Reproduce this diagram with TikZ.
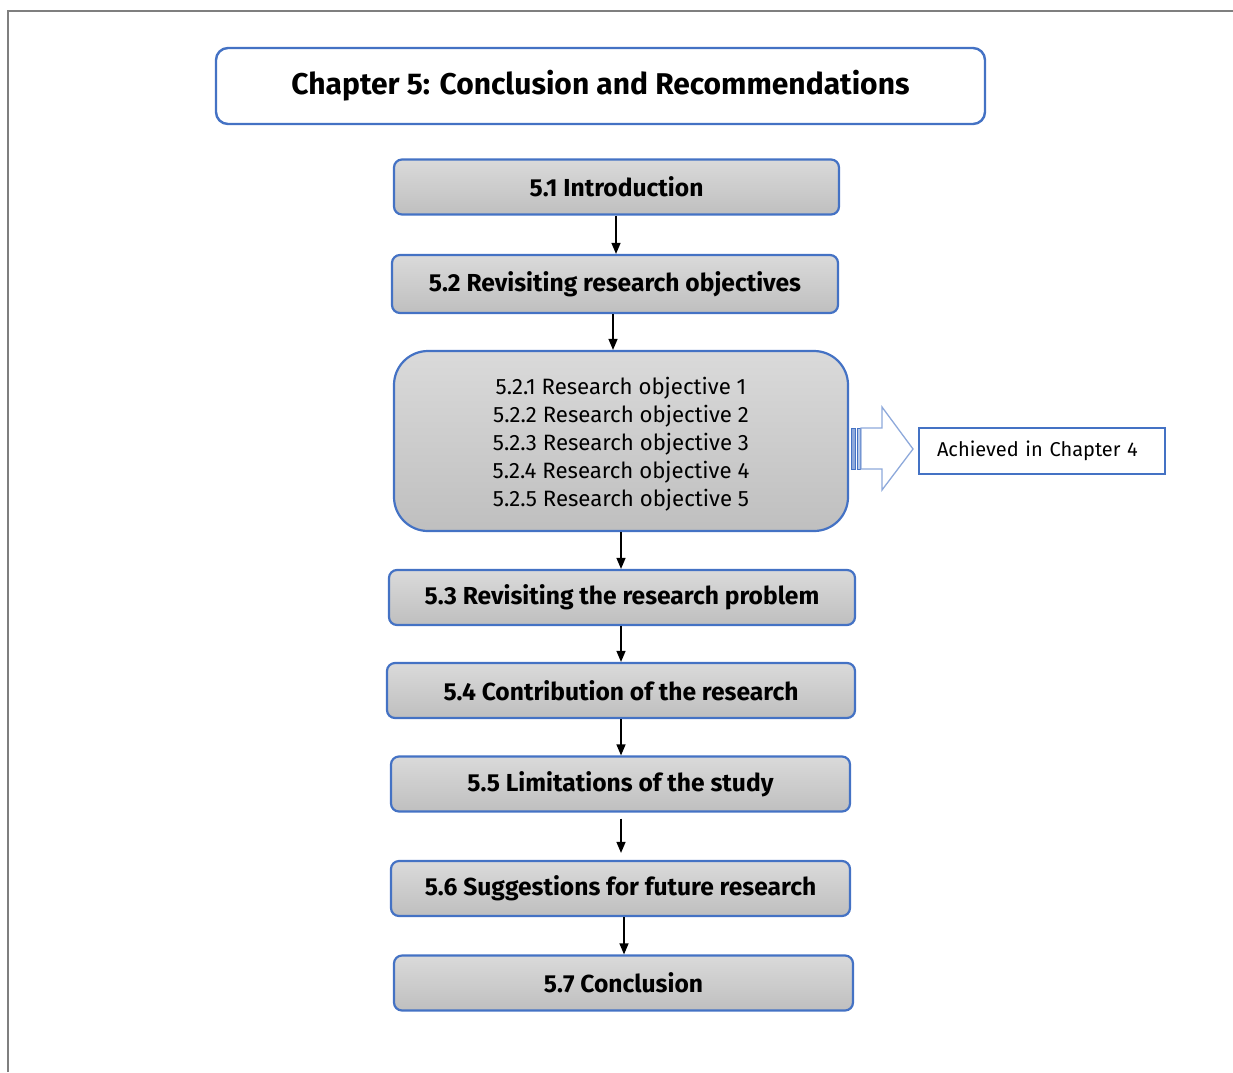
\documentclass[tikz,border=0pt]{standalone}
\usepackage{fontspec}
\setmainfont{Fira Sans}
\usetikzlibrary{arrows.meta}
\definecolor{frameGray}{HTML}{7F7F7F}
\definecolor{boxBlue}{HTML}{4472C4}
\definecolor{lightBlue}{HTML}{8EA9DB}
\definecolor{stripeBlue}{HTML}{B4C7E7}
\definecolor{gTop}{HTML}{DADADA}
\definecolor{gBot}{HTML}{BFBFBF}
\tikzset{
  titlebox/.style={draw=boxBlue, line width=2.4pt, rounded corners=12pt, fill=white,
    minimum width=769pt, minimum height=76pt, font=\fontsize{30}{34}\selectfont\bfseries},
  secbox/.style={draw=boxBlue, line width=2.2pt, rounded corners=8pt,
    top color=gTop, bottom color=gBot, minimum height=55pt,
    font=\fontsize{24.6}{28}\selectfont\bfseries},
  objbox/.style={draw=boxBlue, line width=2.2pt, rounded corners=34pt,
    top color=gTop, bottom color=gBot, minimum width=454pt, minimum height=180pt,
    align=center, font=\fontsize{22.2}{28}\selectfont},
  notebox/.style={draw=boxBlue, line width=1.2pt, fill=white,
    text width=210pt, inner xsep=18pt, align=left,
    minimum height=46pt, font=\fontsize{20}{24}\selectfont},
  flow/.style={draw=black, line width=1.3pt, -{Triangle[length=11pt,width=9pt]}},
}
\begin{document}
\begin{tikzpicture}[x=1pt,y=-1pt]
\useasboundingbox (0,0) rectangle (1233,1072);
% page frame
\draw[frameGray, line width=2.2pt] (8,1072) -- (8,11) -- (1233,11);

% heading
\node[titlebox] (title) at (600.5,86) {Chapter 5: Conclusion and Recommendations};

% section boxes
\node[secbox, minimum width=445pt] (s1) at (616.5,187) {5.1 Introduction};
\node[secbox, minimum width=446pt, minimum height=58pt] (s2) at (615,284) {5.2 Revisiting research objectives};
\node[objbox] (obj) at (621,441) {\rule{0pt}{24pt}5.2.1 Research objective 1\\5.2.2 Research objective 2\\5.2.3 Research objective 3\\5.2.4 Research objective 4\\5.2.5 Research objective 5};
\node[secbox, minimum width=466pt] (s3) at (622,597.5) {5.3 Revisiting the research problem};
\node[secbox, minimum width=468pt] (s4) at (621,690.5) {5.4 Contribution of the research};
\node[secbox, minimum width=459pt] (s5) at (620.5,784) {5.5 Limitations of the study};
\node[secbox, minimum width=459pt] (s6) at (620.5,888.5) {5.6 Suggestions for future research};
\node[secbox, minimum width=459pt] (s7) at (623.5,983) {5.7 Conclusion};

% side note
\node[notebox] (note) at (1042,451) {Achieved in Chapter 4};

% striped block arrow from the objectives box to the note
\draw[boxBlue, line width=0.8pt, fill=lightBlue] (851,428) rectangle (855,469);
\draw[boxBlue, line width=0.8pt, fill=stripeBlue] (857,428) rectangle (860,469);
\draw[lightBlue, line width=1.3pt, fill=white, line join=miter]
  (861,428) -- (882,428) -- (882,407) -- (913,449) -- (882,490) -- (882,469) -- (861,469) -- cycle;

% flow connectors
\draw[flow] (s1.south -| 616,0) -- (s2.north -| 616,0);
\draw[flow] (s2.south -| 613,0) -- (obj.north -| 613,0);
\draw[flow] (obj.south) -- (s3.north -| obj.south);
\draw[flow] (s3.south -| 621,0) -- (s4.north -| 621,0);
\draw[flow] (s4.south -| 621,0) -- (s5.north -| 621,0);
\draw[flow, shorten <=6pt, shorten >=7pt] (s5.south -| 621,0) -- (s6.north -| 621,0);
\draw[flow] (s6.south -| 624,0) -- (s7.north -| 624,0);
\end{tikzpicture}
\end{document}
